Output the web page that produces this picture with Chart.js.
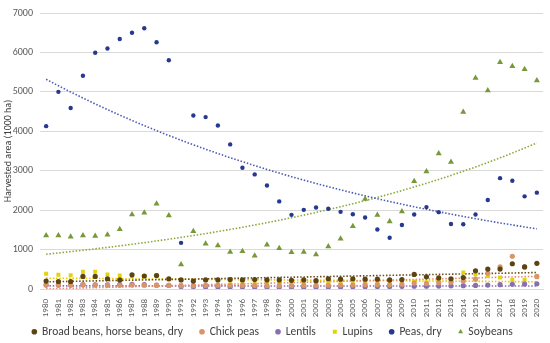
<!DOCTYPE html>
<html>
<head>
<meta charset="utf-8">
<script src="https://cdn.jsdelivr.net/npm/chart.js@4/dist/chart.umd.min.js"></script>
<style>
html,body{margin:0;padding:0;background:#fff;}
#wrap{width:550px;height:343px;position:relative;}
</style>
</head>
<body>
<div id="wrap"><canvas id="c" width="550" height="343"></canvas></div>
<script>
const years = ["1980","1981","1982","1983","1984","1985","1986","1987","1988","1989","1990","1991","1992","1993","1994","1995","1996","1997","1998","1999","2000","2001","2002","2003","2004","2005","2006","2007","2008","2009","2010","2011","2012","2013","2014","2015","2016","2017","2018","2019","2020"];

const broadBeans = [200,190,190,320,320,260,230,360,330,340,260,230,200,230,230,240,230,240,230,230,220,230,210,260,250,260,250,250,230,240,370,310,280,260,290,460,505,505,640,560,650];
const chickPeas = [110,105,100,110,105,100,95,100,95,90,90,85,85,90,95,95,90,90,85,85,85,90,90,95,100,100,110,110,105,120,150,140,160,170,200,250,400,560,830,560,320];
const lentils = [100,100,100,110,105,105,110,120,110,100,90,60,55,50,50,50,50,45,45,45,45,45,45,50,50,55,55,60,60,65,70,70,75,80,85,90,100,110,120,125,130];
const lupins = [385,360,350,440,440,370,340,320,330,350,240,100,90,100,110,120,120,130,140,130,130,130,140,150,170,160,170,160,150,160,190,170,180,190,420,370,330,290,230,230,300];
const peasDry = [4130,5000,4590,5410,5990,6100,6340,6500,6615,6260,5800,1170,4400,4360,4145,3667,3077,2906,2624,2222,1880,2008,2068,2034,1957,1897,1812,1510,1299,1624,1889,2077,1949,1650,1641,1889,2256,2812,2744,2350,2444];
const soybeans = [1359,1359,1325,1359,1342,1376,1513,1889,1932,2162,1863,624,1462,1145,1103,940,957,846,1120,1034,932,940,872,1077,1273,1590,2282,1875,1709,1966,2735,2983,3436,3222,4487,5350,5033,5751,5649,5572,5290];

const yTicks = [0,1000,2000,3000,4000,5000,6000,7000];

function expTrend(vals){
  const n = vals.length; let sx=0,sy=0,sxx=0,sxy=0;
  vals.forEach((v,i)=>{const l=Math.log(v);sx+=i;sy+=l;sxx+=i*i;sxy+=i*l;});
  const b=(n*sxy-sx*sy)/(n*sxx-sx*sx); const a=(sy-b*sx)/n;
  return vals.map((v,i)=>Math.exp(a+b*i));
}
function linTrend(vals){
  const n = vals.length; let sx=0,sy=0,sxx=0,sxy=0;
  vals.forEach((v,i)=>{sx+=i;sy+=v;sxx+=i*i;sxy+=i*v;});
  const b=(n*sxy-sx*sy)/(n*sxx-sx*sx); const a=(sy-b*sx)/n;
  return vals.map((v,i)=>a+b*i);
}

const cBroad='#5b4314', cChick='#d9956a', cLent='#8a6fb0', cLup='#e2d30a', cPeas='#27398f', cSoy='#77993a';

function pts(label,data,color,style,r){
  return {type:'line',label,data,showLine:false,borderColor:color,backgroundColor:color,
    pointStyle:style,pointRadius:r,pointHoverRadius:r,pointBorderWidth:0,order:1};
}
function trend(data,color){
  return {type:'line',label:'_trend',data,borderColor:color,borderWidth:1.6,borderDash:[1.5,1.8],
    pointRadius:0,fill:false,tension:0,order:2};
}

const datasets = [
  pts('Broad beans, horse beans, dry',broadBeans,cBroad,'circle',2.6),
  pts('Chick peas',chickPeas,cChick,'circle',2.6),
  pts('Lentils',lentils,cLent,'circle',2.6),
  pts('Lupins',lupins,cLup,'rect',2.8),
  pts('Peas, dry',peasDry,cPeas,'circle',2.2),
  pts('Soybeans',soybeans,cSoy,'triangle',3.5),
  trend(linTrend(broadBeans),'#6b4e1a'),
  trend(linTrend(chickPeas),'#e58a7a'),
  trend(linTrend(lentils),'#8a6fb0'),
  trend(linTrend(lupins),'#e6c800'),
  trend(expTrend(peasDry),'#4a5bb5'),
  trend(expTrend(soybeans),'#8aa83a')
];

// compact legend: keep horizontal gaps, take little layout height, draw items below the x labels
const LEGEND_H = 24, LEGEND_TOP = 309;
const legendFix = {
  id:'legendFix',
  afterInit(chart){
    const lg = chart.legend;
    const of = lg.fit;
    lg.fit = function(){ of.call(this); this.height = LEGEND_H; };
  },
  afterLayout(chart){
    const lg = chart.legend;
    lg.top = LEGEND_TOP; lg.bottom = chart.height; lg.height = lg.bottom - lg.top;
  }
};

Chart.defaults.font.family = "Calibri, Carlito, 'Liberation Sans', Arial, sans-serif";

new Chart(document.getElementById('c'),{
  data:{labels:years,datasets},
  plugins:[legendFix],
  options:{
    responsive:false,animation:false,
    layout:{padding:{top:12,right:7,left:2,bottom:0}},
    plugins:{
      legend:{position:'bottom',
        labels:{usePointStyle:true,boxWidth:4,boxHeight:4,padding:17,color:'#404040',
          font:{size:11.5},
          filter:(item)=>item.text!=='_trend'}},
      tooltip:{enabled:false}
    },
    scales:{
      x:{type:'category',offset:true,
        grid:{display:false},
        border:{display:true,color:'#d9d9d9'},
        ticks:{color:'#595959',font:{size:9},minRotation:90,maxRotation:90,autoSkip:false,padding:2},
        afterFit:(s)=>{s.height=30;}
      },
      y:{min:0,max:7000,
        afterBuildTicks:(s)=>{s.ticks=yTicks.map(v=>({value:v}));},
        grid:{color:'#d9d9d9',drawTicks:false},
        border:{display:false},
        ticks:{color:'#595959',font:{size:10},padding:7,callback:(v)=>String(v)},
        title:{display:true,text:'Harvested area (1000 ha)',color:'#404040',font:{size:10},padding:{top:0,bottom:2}},
        afterFit:(s)=>{s.width=38;}
      }
    }
  }
});
</script>
</body>
</html>
